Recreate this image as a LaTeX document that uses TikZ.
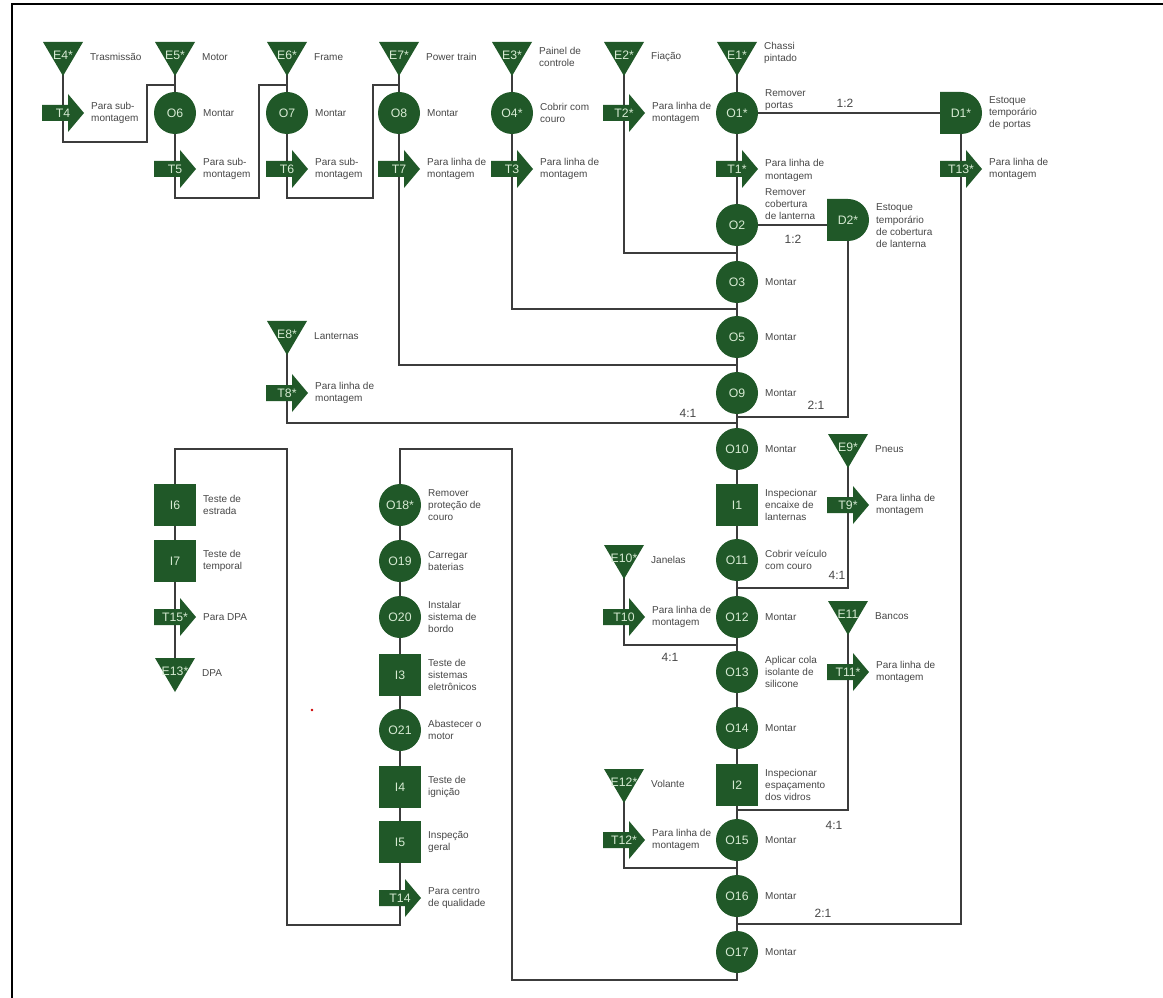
\documentclass[tikz,border=0pt]{standalone}
\usepackage{fontspec}
\setmainfont{Liberation Sans}
\usetikzlibrary{positioning,backgrounds}
\definecolor{gfill}{RGB}{32,88,40}
\definecolor{gtext}{RGB}{214,234,210}
\definecolor{lblc}{RGB}{70,70,70}
\definecolor{linec}{RGB}{60,60,60}
\begin{document}
\begin{tikzpicture}[x=0.75pt,y=-0.75pt,
  nfont/.style={font=\fontsize{9.2}{10}\selectfont, text=gtext},
  op/.style={nfont, circle, fill=gfill, minimum size=31.5pt, inner sep=0pt},
  insp/.style={nfont, rectangle, fill=gfill, minimum size=31.5pt, inner sep=0pt},
  stor/.style={nfont, rectangle, minimum width=30pt, minimum height=25.5pt, inner sep=0pt,
    text height=7pt, text depth=6pt,
    path picture={\fill[gfill] (path picture bounding box.north west) -- (path picture bounding box.north east) -- (path picture bounding box.south) -- cycle;}},
  trans/.style={nfont, rectangle, minimum width=31.5pt, minimum height=28.5pt, inner sep=0pt,
    path picture={\fill[gfill] (path picture bounding box.west) ++(0,6pt) -- ++(19.5pt,0) -- ++(0,8.25pt) -- (path picture bounding box.east) -- ++(-12pt,-14.25pt) -- ++(0,8.25pt) -- ++(-19.5pt,0) -- cycle;}},
  dly/.style={nfont, rectangle, minimum size=31.5pt, inner sep=0pt,
    path picture={\fill[gfill] (path picture bounding box.north west) -- (path picture bounding box.north) arc[start angle=90,end angle=-90,radius=15.75pt] -- (path picture bounding box.south west) -- cycle;}},
  lbl/.style={inner sep=0pt, align=left, text=lblc, font=\fontsize{7.5}{9.2}\selectfont},
  ratio/.style={inner sep=0pt, text=lblc, font=\fontsize{9}{10}\selectfont},
  conn/.style={draw=linec, line width=1.5pt}
]
\useasboundingbox (0,0) rectangle (1163,998);
\draw[line width=2.2pt, black] (12,1005) -- (12,4) -- (1170,4);

% ---- top row columns ----
\node[stor] (E4) at (63,59) {E4*};
\node[trans] (T4) at (63,113) {T4};
\node[stor] (E5) at (175,59) {E5*};
\node[op] (O6) at (175,113) {O6};
\node[trans] (T5) at (175,169) {T5};
\node[stor] (E6) at (287,59) {E6*};
\node[op] (O7) at (287,113) {O7};
\node[trans] (T6) at (287,169) {T6};
\node[stor] (E7) at (399,59) {E7*};
\node[op] (O8) at (399,113) {O8};
\node[trans] (T7) at (399,169) {T7};
\node[stor] (E3) at (512,59) {E3*};
\node[op] (O4) at (512,113) {O4*};
\node[trans] (T3) at (512,169) {T3};
\node[stor] (E2) at (624,59) {E2*};
\node[trans] (T2) at (624,113) {T2*};

% ---- main column ----
\node[stor] (E1) at (737,59) {E1*};
\node[op] (O1) at (737,113) {O1*};
\node[trans] (T1) at (737,169) {T1*};
\node[op] (O2) at (737,225) {O2};
\node[op] (O3) at (737,282) {O3};
\node[op] (O5) at (737,337) {O5};
\node[op] (O9) at (737,393) {O9};
\node[op] (O10) at (737,449) {O10};
\node[insp] (I1) at (737,505) {I1};
\node[op] (O11) at (737,560) {O11};
\node[op] (O12) at (737,617) {O12};
\node[op] (O13) at (737,672) {O13};
\node[op] (O14) at (737,728) {O14};
\node[insp] (I2) at (737,785) {I2};
\node[op] (O15) at (737,840) {O15};
\node[op] (O16) at (737,896) {O16};
\node[op] (O17) at (737,952) {O17};

% ---- right side ----
\node[dly] (D1) at (961,113) {D1*};
\node[trans] (T13) at (961,169) {T13*};
\node[dly] (D2) at (848,220) {D2*};
\node[stor] (E9) at (848,451) {E9*};
\node[trans] (T9) at (848,505) {T9*};
\node[stor] (E11) at (848,618) {E11};
\node[trans] (T11) at (848,672) {T11*};

% ---- left feeders ----
\node[stor] (E8) at (287,338) {E8*};
\node[trans] (T8) at (287,393) {T8*};
\node[stor] (E10) at (624,562) {E10*};
\node[trans] (T10) at (624,617) {T10};
\node[stor] (E12) at (624,786) {E12*};
\node[trans] (T12) at (624,840) {T12*};

% ---- final columns ----
\node[op] (O18) at (400,505) {O18*};
\node[op] (O19) at (400,561) {O19};
\node[op] (O20) at (400,617) {O20};
\node[insp] (I3) at (400,675) {I3};
\node[op] (O21) at (400,730) {O21};
\node[insp] (I4) at (400,787) {I4};
\node[insp] (I5) at (400,842) {I5};
\node[trans] (T14) at (400,898) {T14};
\node[insp] (I6) at (175,505) {I6};
\node[insp] (I7) at (175,561) {I7};
\node[trans] (T15) at (175,617) {T15*};
\node[stor] (E13) at (175,675) {E13*};

% ---- labels ----
\node[lbl, right=5pt of E4, yshift=1.5pt] (lE4) {Trasmissão};
\node[lbl, right=5pt of T4] (lT4) {Para sub-\\montagem};
\node[lbl, right=5pt of E5, yshift=1.5pt] (lE5) {Motor};
\node[lbl, right=5pt of O6] (lO6) {Montar};
\node[lbl, right=5pt of T5] (lT5) {Para sub-\\montagem};
\node[lbl, right=5pt of E6, yshift=1.5pt] (lE6) {Frame};
\node[lbl, right=5pt of O7] (lO7) {Montar};
\node[lbl, right=5pt of T6] (lT6) {Para sub-\\montagem};
\node[lbl, right=5pt of E7, yshift=1.5pt] (lE7) {Power train};
\node[lbl, right=5pt of O8] (lO8) {Montar};
\node[lbl, right=5pt of T7] (lT7) {Para linha de\\montagem};
\node[lbl, right=5pt of E3, yshift=1.5pt] (lE3) {Painel de\\controle};
\node[lbl, right=5pt of O4] (lO4) {Cobrir com\\couro};
\node[lbl, right=5pt of T3] (lT3) {Para linha de\\montagem};
\node[lbl, right=5pt of E2, yshift=1.5pt] (lE2) {Fiação};
\node[lbl, right=5pt of T2] (lT2) {Para linha de\\montagem};
\node[lbl, right=5pt of E1, yshift=4.5pt] (lE1) {Chassi\\pintado};
\node[lbl, right=5pt of O1, yshift=9.5pt] (lO1) {Remover\\portas};
\node[lbl, right=5pt of T1, yshift=-1pt] (lT1) {Para linha de\\montagem};
\node[lbl, right=5pt of O2, yshift=15.5pt] (lO2) {Remover\\cobertura\\de lanterna};
\node[lbl, right=5pt of O3] (lO3) {Montar};
\node[lbl, right=5pt of O5] (lO5) {Montar};
\node[lbl, right=5pt of O9] (lO9) {Montar};
\node[lbl, right=5pt of O10] (lO10) {Montar};
\node[lbl, right=5pt of I1] (lI1) {Inspecionar\\encaixe de\\lanternas};
\node[lbl, right=5pt of O11] (lO11) {Cobrir veículo\\com couro};
\node[lbl, right=5pt of O12] (lO12) {Montar};
\node[lbl, right=5pt of O13] (lO13) {Aplicar cola\\isolante de\\silicone};
\node[lbl, right=5pt of O14] (lO14) {Montar};
\node[lbl, right=5pt of I2] (lI2) {Inspecionar\\espaçamento\\dos vidros};
\node[lbl, right=5pt of O15] (lO15) {Montar};
\node[lbl, right=5pt of O16] (lO16) {Montar};
\node[lbl, right=5pt of O17] (lO17) {Montar};
\node[lbl, right=5pt of D1] (lD1) {Estoque\\temporário\\de portas};
\node[lbl, right=5pt of T13] (lT13) {Para linha de\\montagem};
\node[lbl, right=5pt of D2, yshift=-4.5pt] (lD2) {Estoque\\temporário\\de cobertura\\de lanterna};
\node[lbl, right=5pt of E9, yshift=1.5pt] (lE9) {Pneus};
\node[lbl, right=5pt of T9] (lT9) {Para linha de\\montagem};
\node[lbl, right=5pt of E11, yshift=1.5pt] (lE11) {Bancos};
\node[lbl, right=5pt of T11] (lT11) {Para linha de\\montagem};
\node[lbl, right=5pt of E8, yshift=1.5pt] (lE8) {Lanternas};
\node[lbl, right=5pt of T8] (lT8) {Para linha de\\montagem};
\node[lbl, right=5pt of E10, yshift=1.5pt] (lE10) {Janelas};
\node[lbl, right=5pt of T10] (lT10) {Para linha de\\montagem};
\node[lbl, right=5pt of E12, yshift=1.5pt] (lE12) {Volante};
\node[lbl, right=5pt of T12] (lT12) {Para linha de\\montagem};
\node[lbl, right=5pt of O18] (lO18) {Remover\\proteção de\\couro};
\node[lbl, right=5pt of O19] (lO19) {Carregar\\baterias};
\node[lbl, right=5pt of O20] (lO20) {Instalar\\sistema de\\bordo};
\node[lbl, right=5pt of I3] (lI3) {Teste de\\sistemas\\eletrônicos};
\node[lbl, right=5pt of O21] (lO21) {Abastecer o\\motor};
\node[lbl, right=5pt of I4] (lI4) {Teste de\\ignição};
\node[lbl, right=5pt of I5] (lI5) {Inspeção\\geral};
\node[lbl, right=5pt of T14] (lT14) {Para centro\\de qualidade};
\node[lbl, right=5pt of I6] (lI6) {Teste de\\estrada};
\node[lbl, right=5pt of I7] (lI7) {Teste de\\temporal};
\node[lbl, right=5pt of T15] (lT15) {Para DPA};
\node[lbl, right=5pt of E13, yshift=1.5pt] (lE13) {DPA};

% ---- ratios ----
\node[ratio] (r1) at (845,103) {1:2};
\node[ratio] (r2) at (793,239) {1:2};
\node[ratio] (r3) at (816,405) {2:1};
\node[ratio] (r4) at (688,413) {4:1};
\node[ratio] (r5) at (837,575) {4:1};
\node[ratio] (r6) at (670,657) {4:1};
\node[ratio] (r7) at (834,825) {4:1};
\node[ratio] (r8) at (823,913) {2:1};

% stray mark
\fill[red!80!black] (312,710) circle[radius=1.3];

% ---- junction coordinates on main line ----
\coordinate (j2) at (737,253);
\coordinate (j3) at (737,309);
\coordinate (j7) at (737,365);
\coordinate (jD2) at (737,417);
\coordinate (j8) at (737,423);
\coordinate (j9) at (737,588);
\coordinate (j10) at (737,645);
\coordinate (j11) at (737,810);
\coordinate (j12) at (737,868);
\coordinate (jD1) at (737,924);

\begin{scope}[on background layer]
\draw[conn] (E4.center) |- (147,142) -- (147,85) -| (O6.center);
\draw[conn] (E5.center) |- (259,198) -- (259,85) -| (O7.center);
\draw[conn] (E6.center) |- (373,198) -- (373,85) -| (O8.center);
\draw[conn] (E7.center) |- (j7);
\draw[conn] (E3.center) |- (j3);
\draw[conn] (E2.center) |- (j2);
\draw[conn] (E1.center) -- (O17.center) -- ++(0,28) -| (512,449) -| (O18.center);
\draw[conn] (O18.center) -- (T14.center) -- ++(0,27) -| (287,449) -| (I6.center) -- (E13.center);
\draw[conn] (O1.center) -- (D1.center);
\draw[conn] (D1.center) |- (jD1);
\draw[conn] (O2.center) -- (O2.center -| D2.west);
\draw[conn] (D2.center) |- (jD2);
\draw[conn] (E8.center) |- (j8);
\draw[conn] (E9.center) |- (j9);
\draw[conn] (E10.center) |- (j10);
\draw[conn] (E11.center) |- (j11);
\draw[conn] (E12.center) |- (j12);
\end{scope}
\end{tikzpicture}
\end{document}
